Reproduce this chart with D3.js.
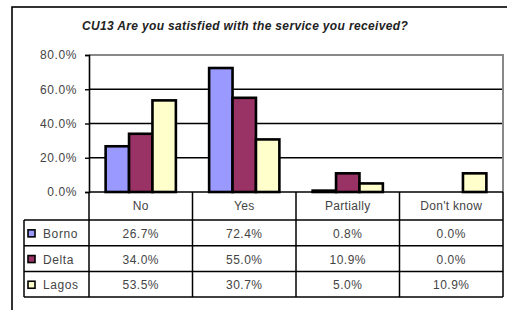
<!DOCTYPE html>
<html>
<head>
<meta charset="utf-8">
<script src="https://cdn.jsdelivr.net/npm/d3@7"></script>
<style>
  body { margin: 0; background: #fff; }
  text { font-family: "Liberation Sans", Arial, sans-serif; }
</style>
</head>
<body>
<div id="chart"></div>
<script>
// data
var categories = ["No", "Yes", "Partially", "Don't know"];
var seriesNames = ["Borno", "Delta", "Lagos"];
var borno = [26.7, 72.4, 0.8, 0.0];
var delta = [34.0, 55.0, 10.9, 0.0];
var lagos = [53.5, 30.7, 5.0, 10.9];
var yTicks = [0, 20, 40, 60, 80];
var colors = ["#9999FF", "#993366", "#FFFFCC"];
var values = [borno, delta, lagos];

var attrs = {
  width: 507,
  height: 310,
  plotLeft: 89,
  plotRight: 503,
  plotTop: 55,
  plotBottom: 192,
  legendLeft: 24,
  headerHeight: 28,
  rowHeight: 25.7
};

var svg = d3.select('#chart').append('svg')
  .attr('width', attrs.width)
  .attr('height', attrs.height);

// outer frame (cut off at right and bottom)
svg.append('rect')
  .attr('x', 12).attr('y', 7)
  .attr('width', 520).attr('height', 320)
  .attr('fill', '#fff')
  .attr('stroke', '#000')
  .attr('stroke-width', 1.6);

svg.append('text')
  .attr('x', 245).attr('y', 30)
  .attr('text-anchor', 'middle')
  .style('font-size', '12px')
  .style('font-weight', 'bold')
  .style('font-style', 'italic')
  .style('letter-spacing', '0.35px')
  .attr('fill', '#222')
  .text('CU13 Are you satisfied with the service you received?');

// scales
var x0 = d3.scaleBand()
  .domain(categories)
  .range([attrs.plotLeft, attrs.plotRight]);

var x1 = d3.scaleBand()
  .domain(seriesNames)
  .range([0, x0.bandwidth()])
  .paddingOuter(0.71);

var y = d3.scaleLinear()
  .domain([0, 80])
  .range([attrs.plotBottom, attrs.plotTop]);

var chart = svg.append('g');

// gridlines
chart.selectAll('.grid').data(yTicks.filter(function (d) { return d > 0 && d < 80; }))
  .enter().append('line')
  .attr('class', 'grid')
  .attr('x1', attrs.plotLeft).attr('x2', attrs.plotRight)
  .attr('y1', function (d) { return y(d); })
  .attr('y2', function (d) { return y(d); })
  .attr('stroke', '#000')
  .attr('stroke-width', 1.4);

// plot border top/right (grey)
chart.append('path')
  .attr('d', 'M' + attrs.plotLeft + ',' + y(80) + 'H' + attrs.plotRight + 'V' + attrs.plotBottom)
  .attr('fill', 'none')
  .attr('stroke', '#888')
  .attr('stroke-width', 2);

// bars
var rows = [];
values.forEach(function (arr, si) {
  arr.forEach(function (v, ci) {
    rows.push({ series: seriesNames[si], cat: categories[ci], value: v, si: si });
  });
});

chart.selectAll('.bar').data(rows.filter(function (d) { return d.value > 0; }))
  .enter().append('rect')
  .attr('class', 'bar')
  .attr('x', function (d) { return x0(d.cat) + x1(d.series); })
  .attr('width', x1.bandwidth())
  .attr('y', function (d) { return y(d.value); })
  .attr('height', function (d) { return y(0) - y(d.value); })
  .attr('fill', function (d) { return colors[d.si]; })
  .attr('stroke', '#000')
  .attr('stroke-width', 2.6);

// y axis
var yAxis = d3.axisLeft(y)
  .tickValues(yTicks)
  .tickSize(4)
  .tickPadding(8)
  .tickFormat(function (d) { return d.toFixed(1) + '%'; });

var yg = chart.append('g')
  .attr('transform', 'translate(' + attrs.plotLeft + ',0)')
  .call(yAxis);
yg.select('.domain').attr('stroke', '#000').attr('stroke-width', 1.6);
yg.selectAll('.tick line').attr('stroke', '#000').attr('stroke-width', 1.4);
yg.selectAll('.tick text')
  .attr('fill', '#444')
  .style('font-size', '12px')
  .style('letter-spacing', '0.6px')
  .attr('font-family', null);

// data table
var table = svg.append('g');
var headerTop = attrs.plotBottom;
var headerBottom = headerTop + attrs.headerHeight;
var tableBottom = headerBottom + attrs.rowHeight * seriesNames.length;

function hline(x1p, x2p, yp) {
  table.append('line')
    .attr('x1', x1p).attr('x2', x2p).attr('y1', yp).attr('y2', yp)
    .attr('stroke', '#000').attr('stroke-width', 1.5);
}
function vline(xp, y1p, y2p) {
  table.append('line')
    .attr('x1', xp).attr('x2', xp).attr('y1', y1p).attr('y2', y2p)
    .attr('stroke', '#000').attr('stroke-width', 1.5);
}

hline(attrs.plotLeft, attrs.plotRight, headerTop);
seriesNames.forEach(function (s, i) {
  hline(attrs.legendLeft, attrs.plotRight, headerBottom + attrs.rowHeight * i);
});
hline(attrs.legendLeft, attrs.plotRight, tableBottom);
vline(attrs.legendLeft, headerBottom, tableBottom);
categories.forEach(function (c) {
  vline(x0(c), headerTop, tableBottom);
});
vline(attrs.plotRight, headerTop, tableBottom);

table.selectAll('.catLabel').data(categories)
  .enter().append('text')
  .attr('class', 'catLabel')
  .attr('x', function (d) { return x0(d) + x0.bandwidth() / 2; })
  .attr('y', headerTop + 18)
  .attr('text-anchor', 'middle')
  .attr('fill', '#444')
  .style('font-size', '12px')
  .style('letter-spacing', '0.3px')
  .text(function (d) { return d; });

seriesNames.forEach(function (s, si) {
  var rowY = headerBottom + attrs.rowHeight * si;
  var g = table.append('g');
  g.append('rect')
    .attr('x', attrs.legendLeft + 4).attr('y', rowY + attrs.rowHeight / 2 - 3)
    .attr('width', 7).attr('height', 7)
    .attr('fill', colors[si])
    .attr('stroke', '#000').attr('stroke-width', 1.6);
  g.append('text')
    .attr('x', attrs.legendLeft + 19)
    .attr('y', rowY + attrs.rowHeight / 2 + 5)
    .attr('fill', '#444')
    .style('font-size', '12px')
    .style('letter-spacing', '0.6px')
    .text(s);
  g.selectAll('.val').data(values[si])
    .enter().append('text')
    .attr('class', 'val')
    .attr('x', function (d, i) { return x0(categories[i]) + x0.bandwidth() / 2; })
    .attr('y', rowY + attrs.rowHeight / 2 + 5)
    .attr('text-anchor', 'middle')
    .attr('fill', '#444')
    .style('font-size', '12px')
    .style('letter-spacing', '0.5px')
    .text(function (d) { return d.toFixed(1) + '%'; });
});
</script>
</body>
</html>
